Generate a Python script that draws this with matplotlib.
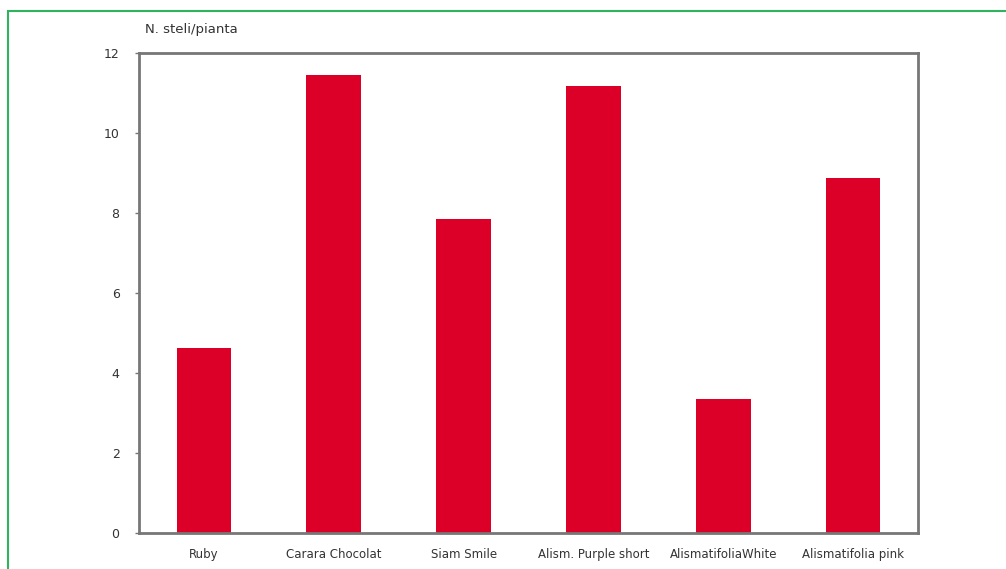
import matplotlib.pyplot as plt
from matplotlib.patches import Rectangle

varieties = ['Ruby', 'Carara Chocolat', 'Siam Smile', 'Alism. Purple short',
             'AlismatifoliaWhite', 'Alismatifolia pink']
steli = [4.63, 11.45, 7.85, 11.18, 3.35, 8.88]
yticks = [0, 2, 4, 6, 8, 10, 12]

W, H = 1006, 569
fig = plt.figure(figsize=(W / 100, H / 100), dpi=100)

# green frame round the figure
fig.patches.append(Rectangle((8 / W, -0.01), 1.1, 1 - 11 / H + 0.01,
                             transform=fig.transFigure, fill=False,
                             edgecolor='#2fb35e', linewidth=1.5))

ax = fig.add_axes([139 / W, 1 - 533 / H, (918 - 139) / W, (533 - 53) / H])
x = range(len(varieties))
ax.bar(x, steli, width=0.42, color='#dc0028')
ax.set_xlim(-0.5, len(varieties) - 0.5)
ax.set_ylim(0, 12)
ax.set_yticks(yticks)
ax.set_xticks(list(x))
ax.set_xticklabels(varieties, fontsize=8.5, color='#333333')
ax.tick_params(axis='x', length=0, pad=11)
ax.tick_params(axis='y', length=3, width=1, color='#777777', labelsize=9,
               labelcolor='#333333', pad=11)
for s in ax.spines.values():
    s.set_color('#777777')
    s.set_linewidth(2)

fig.text(145 / W, 1 - 30 / H, 'N. steli/pianta', fontsize=9.5,
         color='#333333', va='center')

fig.savefig('out.png', dpi=100)
